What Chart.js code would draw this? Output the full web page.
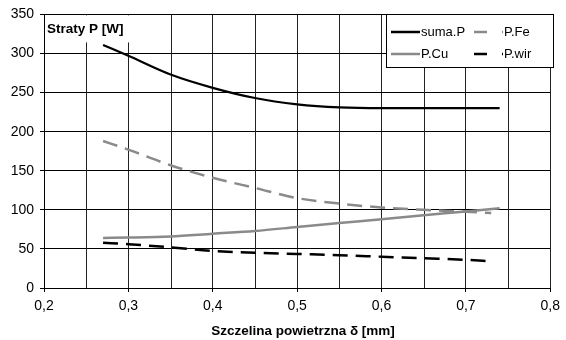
<!DOCTYPE html>
<html>
<head>
<meta charset="utf-8">
<script src="https://cdn.jsdelivr.net/npm/chart.js@4.4.1/dist/chart.umd.min.js"></script>
<style>
  html, body { margin: 0; padding: 0; background: #fff; }
  #wrap { width: 566px; height: 340px; }
</style>
</head>
<body>
<div id="wrap"><canvas id="chart" width="566" height="340"></canvas></div>
<script>
// air gap [mm] for each sampled point
const gapA = [0.27, 0.3, 0.35, 0.4, 0.45, 0.5, 0.55, 0.6, 0.65, 0.7, 0.74];
const gapB = [0.27, 0.3, 0.35, 0.4, 0.45, 0.5, 0.55, 0.6, 0.65, 0.7, 0.73];

// losses [W]
const sumaP = [311, 297, 273, 256, 243, 235, 231, 230, 230, 230, 230];
const pFe   = [188, 177, 157, 141, 128, 115, 108, 103, 100, 97.5, 96];
const pCu   = [64, 64.5, 66, 69.5, 73, 78, 83, 88, 93, 98, 102];
const pWir  = [58, 56, 52, 47.5, 45, 43.5, 42, 40, 38, 36, 34];

// labelled every 0.1, extra unlabelled grid lines half way between
const xTickLabels = ['0,2', '0,3', '0,4', '0,5', '0,6', '0,7', '0,8'];
const xMinorGrid = [0.25, 0.35, 0.45, 0.55, 0.65, 0.75];
const yTickLabels = ['0', '50', '100', '150', '200', '250', '300', '350'];

const FONT = "'Liberation Sans', Arial, sans-serif";
const GRAY = '#8a8a8a';

const pts = (xs, ys) => ys.map((y, i) => ({ x: xs[i], y }));

const series = [
  { label: 'suma.P', data: pts(gapA, sumaP), color: '#000', width: 2.2, dash: [] },
  { label: 'P.Fe',   data: pts(gapB, pFe),   color: GRAY,  width: 2.5, dash: [15, 8] },
  { label: 'P.Cu',   data: pts(gapA, pCu),   color: GRAY,  width: 2.5, dash: [] },
  { label: 'P.wir',  data: pts(gapB, pWir),  color: '#000', width: 2.5, dash: [15, 8] }
];

// half-step vertical grid lines
const minorGrid = {
  id: 'minorGrid',
  beforeDatasetsDraw(chart) {
    const { ctx, chartArea: a, scales: { x } } = chart;
    ctx.save();
    ctx.strokeStyle = '#222';
    ctx.lineWidth = 1;
    xMinorGrid.forEach(v => {
      const px = Math.round(x.getPixelForValue(v)) + 0.5;
      ctx.beginPath();
      ctx.moveTo(px, a.top);
      ctx.lineTo(px, a.bottom);
      ctx.stroke();
    });
    ctx.restore();
  }
};

// panel title box and boxed legend inside the plot area
const overlay = {
  id: 'overlay',
  afterDraw(chart) {
    const { ctx, chartArea: a } = chart;
    ctx.save();

    // "Straty P [W]"
    ctx.fillStyle = '#fff';
    ctx.fillRect(a.left + 1, a.top + 1, 84, 27);
    ctx.fillStyle = '#000';
    ctx.font = 'bold 13.5px ' + FONT;
    ctx.textBaseline = 'middle';
    ctx.textAlign = 'left';
    ctx.fillText('Straty P [W]', a.left + 3, a.top + 15);

    // x axis title
    ctx.textAlign = 'center';
    ctx.fillText('Szczelina powietrzna \u03B4 [mm]', 303, 331);

    // legend
    const bx = 386, by = 14, bw = 168, bh = 54;
    ctx.fillStyle = '#fff';
    ctx.fillRect(bx, by, bw, bh);
    ctx.strokeStyle = '#000';
    ctx.lineWidth = 1;
    ctx.strokeRect(bx + 0.5, by + 0.5, bw - 1, bh - 1);

    const order = [[0, 1], [2, 3]];
    const colX = [bx + 5, bx + 88];
    const rowY = [by + 18, by + 40];
    ctx.font = '13px ' + FONT;
    ctx.textAlign = 'left';
    order.forEach((row, r) => {
      row.forEach((idx, c) => {
        const s = series[idx];
        const x0 = colX[c], y0 = rowY[r];
        ctx.beginPath();
        ctx.strokeStyle = s.color;
        ctx.lineWidth = 2.5;
        ctx.setLineDash(s.dash.length ? [13, 15] : []);
        ctx.moveTo(x0, y0);
        ctx.lineTo(x0 + 29, y0);
        ctx.stroke();
        ctx.setLineDash([]);
        ctx.fillStyle = '#000';
        ctx.fillText(s.label, x0 + 30, y0);
      });
    });

    ctx.restore();
  }
};

new Chart(document.getElementById('chart'), {
  type: 'line',
  data: {
    datasets: series.map(s => ({
      label: s.label,
      data: s.data,
      borderColor: s.color,
      borderWidth: s.width,
      borderDash: s.dash,
      pointRadius: 0,
      fill: false,
      cubicInterpolationMode: 'monotone'
    }))
  },
  options: {
    responsive: false,
    devicePixelRatio: 1,
    animation: false,
    layout: { padding: { left: 0, top: 12, right: 12, bottom: 0 } },
    plugins: { legend: { display: false }, tooltip: { enabled: false } },
    scales: {
      x: {
        type: 'linear',
        min: 0.2,
        max: 0.8,
        afterFit(scale) { scale.height = 52; },
        border: { display: true, color: '#000', width: 1 },
        grid: { color: '#222', lineWidth: 1, tickLength: 4, tickColor: '#000' },
        ticks: {
          stepSize: 0.1,
          autoSkip: false,
          maxRotation: 0,
          padding: 6,
          color: '#000',
          font: { family: FONT, size: 14 },
          callback: v => xTickLabels[Math.round((v - 0.2) * 10)]
        }
      },
      y: {
        min: 0,
        max: 350,
        afterFit(scale) { scale.width = 44; },
        border: { display: true, color: '#000', width: 1 },
        grid: { color: '#000', lineWidth: 1, tickLength: 4, tickColor: '#000' },
        ticks: {
          stepSize: 50,
          padding: 6,
          color: '#000',
          font: { family: FONT, size: 14 },
          callback: v => yTickLabels[Math.round(v / 50)]
        }
      }
    }
  },
  plugins: [minorGrid, overlay]
});
</script>
</body>
</html>
